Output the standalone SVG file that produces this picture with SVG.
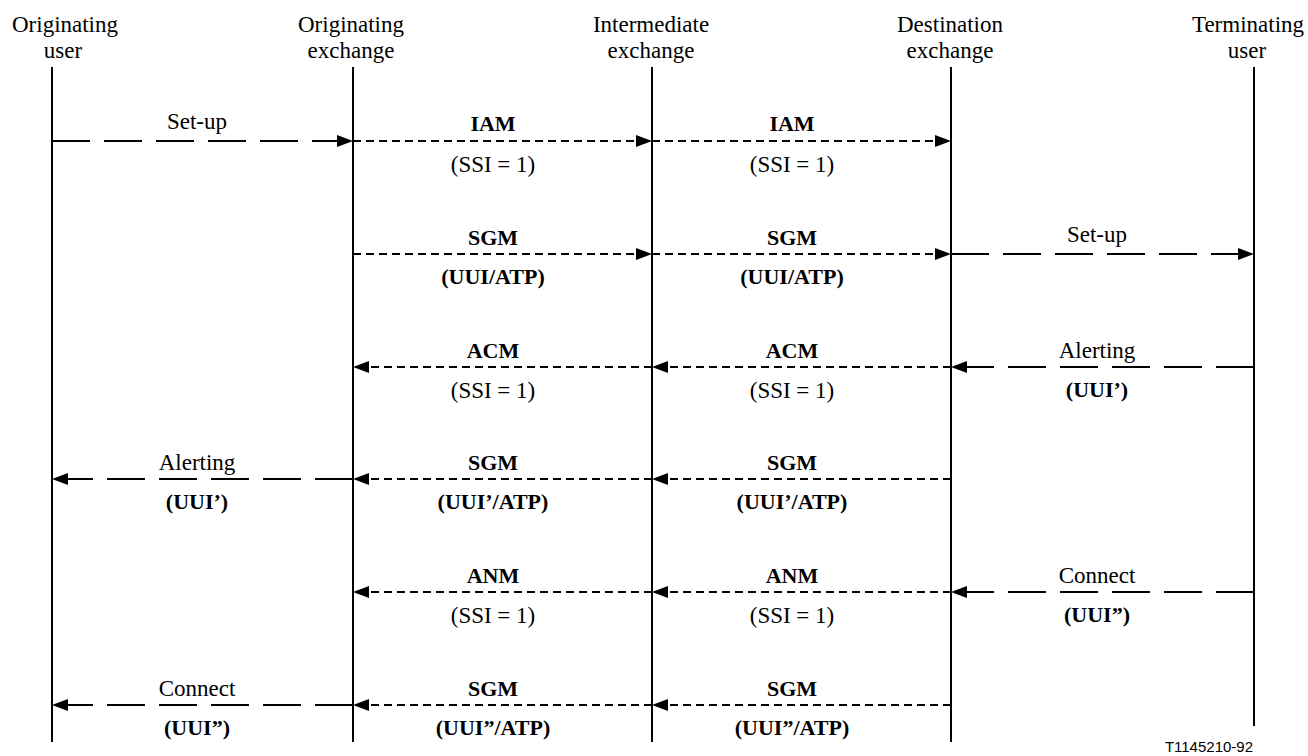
<svg xmlns="http://www.w3.org/2000/svg" width="1308" height="756" viewBox="0 0 1308 756">
<style>
.life{stroke:#000;stroke-width:2;fill:none}
.msg{stroke:#000;stroke-width:2;fill:none;marker-end:url(#ah)}
.long{stroke-dasharray:38 14}
.short{stroke-dasharray:8 5}
.t{font-family:"Liberation Serif","Times New Roman",serif;font-size:23px;text-anchor:middle;fill:#000}
.b{font-weight:bold;font-size:22px}
.f{font-family:"Liberation Sans",Arial,sans-serif;font-size:15px;text-anchor:end;fill:#000}
</style>
<defs>
<marker id="ah" markerUnits="userSpaceOnUse" markerWidth="16" markerHeight="12" refX="16" refY="6" orient="auto">
<path d="M0,0 L16,6 L0,12 Z" fill="#000"/>
</marker>
</defs>
<rect width="1308" height="756" fill="#fff"/>
<g id="originating-user">
<text class="t" x="65" y="32">Originating</text>
<text class="t" x="63" y="58">user</text>
<line class="life" x1="52" y1="67" x2="52" y2="742"/>
</g>
<g id="originating-exchange">
<text class="t" x="351" y="32">Originating</text>
<text class="t" x="351" y="58">exchange</text>
<line class="life" x1="353" y1="67" x2="353" y2="742"/>
</g>
<g id="intermediate-exchange">
<text class="t" x="651" y="32">Intermediate</text>
<text class="t" x="651" y="58">exchange</text>
<line class="life" x1="652" y1="67" x2="652" y2="742"/>
</g>
<g id="destination-exchange">
<text class="t" x="950" y="32">Destination</text>
<text class="t" x="950" y="58">exchange</text>
<line class="life" x1="951" y1="67" x2="951" y2="742"/>
</g>
<g id="terminating-user">
<text class="t" x="1248" y="32">Terminating</text>
<text class="t" x="1247" y="58">user</text>
<line class="life" x1="1254" y1="67" x2="1254" y2="726"/>
</g>
<g id="connectors">
<!-- row 1 -->
<line class="msg long" x1="52" y1="141" x2="353" y2="141"/>
<line class="msg short" x1="353" y1="141" x2="652" y2="141"/>
<line class="msg short" x1="652" y1="141" x2="951" y2="141"/>
<!-- row 2 -->
<line class="msg short" x1="353" y1="254" x2="652" y2="254"/>
<line class="msg short" x1="652" y1="254" x2="951" y2="254"/>
<line class="msg long" x1="951" y1="254" x2="1254" y2="254"/>
<!-- row 3 -->
<line class="msg long" x1="1254" y1="367" x2="951" y2="367"/>
<line class="msg short" x1="951" y1="367" x2="652" y2="367"/>
<line class="msg short" x1="652" y1="367" x2="353" y2="367"/>
<!-- row 4 -->
<line class="msg short" x1="951" y1="479" x2="652" y2="479"/>
<line class="msg short" x1="652" y1="479" x2="353" y2="479"/>
<line class="msg long" x1="353" y1="479" x2="52" y2="479"/>
<!-- row 5 -->
<line class="msg long" x1="1254" y1="592" x2="951" y2="592"/>
<line class="msg short" x1="951" y1="592" x2="652" y2="592"/>
<line class="msg short" x1="652" y1="592" x2="353" y2="592"/>
<!-- row 6 -->
<line class="msg short" x1="951" y1="705" x2="652" y2="705"/>
<line class="msg short" x1="652" y1="705" x2="353" y2="705"/>
<line class="msg long" x1="353" y1="705" x2="52" y2="705"/>
</g>
<g id="labels">
<text class="t" x="197" y="129">Set-up</text>
<text class="t b" x="493" y="131">IAM</text>
<text class="t" x="493" y="172">(SSI = 1)</text>
<text class="t b" x="792" y="131">IAM</text>
<text class="t" x="792" y="172">(SSI = 1)</text>

<text class="t b" x="493" y="245">SGM</text>
<text class="t b" x="493" y="284">(UUI/ATP)</text>
<text class="t b" x="792" y="245">SGM</text>
<text class="t b" x="792" y="284">(UUI/ATP)</text>
<text class="t" x="1097" y="242">Set-up</text>

<text class="t b" x="493" y="358">ACM</text>
<text class="t" x="493" y="398">(SSI = 1)</text>
<text class="t b" x="792" y="358">ACM</text>
<text class="t" x="792" y="398">(SSI = 1)</text>
<text class="t" x="1097" y="358">Alerting</text>
<text class="t b" x="1097" y="397">(UUI’)</text>

<text class="t" x="197" y="470">Alerting</text>
<text class="t b" x="197" y="509">(UUI’)</text>
<text class="t b" x="493" y="470">SGM</text>
<text class="t b" x="493" y="509">(UUI’/ATP)</text>
<text class="t b" x="792" y="470">SGM</text>
<text class="t b" x="792" y="509">(UUI’/ATP)</text>

<text class="t b" x="493" y="583">ANM</text>
<text class="t" x="493" y="623">(SSI = 1)</text>
<text class="t b" x="792" y="583">ANM</text>
<text class="t" x="792" y="623">(SSI = 1)</text>
<text class="t" x="1097" y="583">Connect</text>
<text class="t b" x="1097" y="622">(UUI”)</text>

<text class="t" x="197" y="696">Connect</text>
<text class="t b" x="197" y="735">(UUI”)</text>
<text class="t b" x="493" y="696">SGM</text>
<text class="t b" x="493" y="735">(UUI”/ATP)</text>
<text class="t b" x="792" y="696">SGM</text>
<text class="t b" x="792" y="735">(UUI”/ATP)</text>
</g>
<text class="f" x="1253" y="752">T1145210-92</text>
</svg>
